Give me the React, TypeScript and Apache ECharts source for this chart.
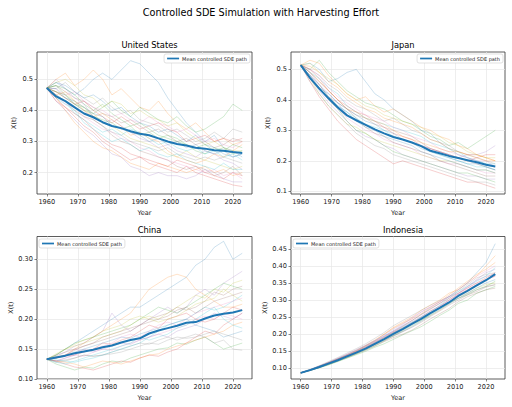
import { useEffect, useRef } from "react";
import * as echarts from "echarts";

// Sample years (every third year, 1960 – 2023)
const years = [1960, 1963, 1966, 1969, 1972, 1975, 1978, 1981, 1984, 1987, 1990, 1993, 1996, 1999, 2002, 2005, 2008, 2011, 2014, 2017, 2020, 2023];
const xTicks = [1960, 1970, 1980, 1990, 2000, 2010, 2020];

// United States
const usMean = [0.472, 0.445, 0.43, 0.41, 0.39, 0.378, 0.362, 0.35, 0.343, 0.333, 0.325, 0.32, 0.31, 0.3, 0.292, 0.287, 0.28, 0.277, 0.272, 0.27, 0.266, 0.263];
const usPaths = [
  [0.472, 0.49, 0.47, 0.45, 0.47, 0.5, 0.52, 0.5, 0.53, 0.56, 0.55, 0.52, 0.49, 0.44, 0.4, 0.36, 0.33, 0.3, 0.32, 0.28, 0.27, 0.25],
  [0.472, 0.5, 0.52, 0.48, 0.5, 0.53, 0.5, 0.45, 0.47, 0.44, 0.41, 0.4, 0.43, 0.39, 0.36, 0.34, 0.36, 0.33, 0.3, 0.31, 0.29, 0.3],
  [0.472, 0.46, 0.44, 0.42, 0.4, 0.39, 0.41, 0.43, 0.4, 0.38, 0.41, 0.39, 0.37, 0.36, 0.38, 0.35, 0.33, 0.34, 0.36, 0.38, 0.42, 0.4],
  [0.472, 0.44, 0.41, 0.38, 0.35, 0.33, 0.3, 0.28, 0.26, 0.24, 0.25, 0.23, 0.22, 0.21, 0.2, 0.22, 0.2, 0.19, 0.18, 0.17, 0.16, 0.155],
  [0.472, 0.43, 0.4, 0.37, 0.34, 0.32, 0.29, 0.26, 0.25, 0.22, 0.21, 0.19, 0.2, 0.19, 0.19, 0.18, 0.19, 0.21, 0.2, 0.18, 0.17, 0.17],
  [0.472, 0.48, 0.46, 0.44, 0.43, 0.41, 0.39, 0.38, 0.36, 0.37, 0.35, 0.33, 0.34, 0.32, 0.3, 0.31, 0.29, 0.3, 0.28, 0.29, 0.31, 0.3],
  [0.472, 0.45, 0.42, 0.41, 0.38, 0.36, 0.34, 0.33, 0.31, 0.3, 0.28, 0.27, 0.25, 0.24, 0.23, 0.22, 0.21, 0.2, 0.21, 0.19, 0.2, 0.18],
  [0.472, 0.47, 0.49, 0.46, 0.44, 0.42, 0.44, 0.41, 0.39, 0.4, 0.37, 0.36, 0.35, 0.33, 0.34, 0.32, 0.3, 0.31, 0.33, 0.31, 0.34, 0.33],
  [0.472, 0.46, 0.45, 0.43, 0.41, 0.39, 0.36, 0.35, 0.33, 0.31, 0.3, 0.29, 0.28, 0.26, 0.25, 0.27, 0.25, 0.24, 0.23, 0.22, 0.21, 0.22],
  [0.472, 0.45, 0.43, 0.39, 0.37, 0.35, 0.33, 0.34, 0.32, 0.34, 0.33, 0.31, 0.29, 0.3, 0.28, 0.27, 0.28, 0.26, 0.27, 0.25, 0.26, 0.24],
  [0.472, 0.49, 0.48, 0.46, 0.44, 0.45, 0.43, 0.4, 0.41, 0.38, 0.36, 0.35, 0.33, 0.34, 0.32, 0.3, 0.32, 0.29, 0.28, 0.26, 0.25, 0.26],
  [0.472, 0.44, 0.4, 0.36, 0.33, 0.3, 0.28, 0.27, 0.25, 0.23, 0.22, 0.21, 0.23, 0.22, 0.21, 0.2, 0.21, 0.22, 0.2, 0.21, 0.19, 0.2],
  [0.472, 0.48, 0.47, 0.45, 0.42, 0.4, 0.42, 0.39, 0.37, 0.35, 0.36, 0.34, 0.32, 0.31, 0.3, 0.29, 0.27, 0.26, 0.28, 0.27, 0.29, 0.28],
  [0.472, 0.46, 0.44, 0.42, 0.43, 0.4, 0.38, 0.36, 0.38, 0.36, 0.34, 0.35, 0.36, 0.34, 0.33, 0.3, 0.31, 0.32, 0.3, 0.31, 0.3, 0.31],
  [0.472, 0.5, 0.47, 0.44, 0.42, 0.38, 0.36, 0.37, 0.35, 0.33, 0.31, 0.3, 0.28, 0.29, 0.27, 0.26, 0.25, 0.27, 0.26, 0.24, 0.23, 0.21],
  [0.472, 0.45, 0.43, 0.4, 0.38, 0.37, 0.35, 0.32, 0.3, 0.29, 0.27, 0.26, 0.25, 0.24, 0.22, 0.21, 0.22, 0.21, 0.19, 0.2, 0.22, 0.19],
  [0.472, 0.47, 0.45, 0.46, 0.43, 0.41, 0.4, 0.38, 0.39, 0.37, 0.36, 0.38, 0.36, 0.35, 0.33, 0.34, 0.32, 0.3, 0.31, 0.29, 0.28, 0.3],
  [0.472, 0.46, 0.45, 0.42, 0.4, 0.37, 0.35, 0.33, 0.32, 0.3, 0.29, 0.28, 0.27, 0.28, 0.26, 0.25, 0.24, 0.25, 0.24, 0.25, 0.24, 0.23],
  [0.472, 0.49, 0.5, 0.48, 0.45, 0.44, 0.41, 0.43, 0.42, 0.39, 0.4, 0.38, 0.37, 0.35, 0.36, 0.33, 0.31, 0.29, 0.3, 0.28, 0.27, 0.27],
  [0.472, 0.44, 0.42, 0.4, 0.36, 0.34, 0.32, 0.3, 0.31, 0.29, 0.27, 0.28, 0.26, 0.25, 0.26, 0.24, 0.23, 0.22, 0.21, 0.23, 0.21, 0.21],
  [0.472, 0.47, 0.44, 0.43, 0.41, 0.39, 0.38, 0.35, 0.34, 0.33, 0.32, 0.3, 0.31, 0.29, 0.3, 0.28, 0.29, 0.27, 0.26, 0.27, 0.25, 0.26],
  [0.472, 0.45, 0.46, 0.43, 0.4, 0.38, 0.39, 0.37, 0.35, 0.32, 0.33, 0.31, 0.3, 0.27, 0.25, 0.24, 0.23, 0.24, 0.26, 0.25, 0.27, 0.29],
  [0.472, 0.48, 0.45, 0.42, 0.41, 0.38, 0.37, 0.36, 0.34, 0.35, 0.32, 0.33, 0.31, 0.32, 0.31, 0.29, 0.28, 0.29, 0.27, 0.28, 0.26, 0.27],
  [0.472, 0.43, 0.41, 0.39, 0.37, 0.34, 0.31, 0.29, 0.28, 0.26, 0.25, 0.24, 0.23, 0.22, 0.24, 0.23, 0.22, 0.2, 0.19, 0.18, 0.2, 0.19],
];

// Japan
const jpMean = [0.514, 0.472, 0.437, 0.405, 0.375, 0.349, 0.333, 0.318, 0.303, 0.29, 0.278, 0.27, 0.26, 0.248, 0.233, 0.225, 0.216, 0.209, 0.202, 0.195, 0.187, 0.181];
const jpPaths = [
  [0.514, 0.52, 0.5, 0.46, 0.47, 0.49, 0.5, 0.46, 0.42, 0.4, 0.37, 0.35, 0.33, 0.3, 0.29, 0.26, 0.24, 0.22, 0.21, 0.2, 0.19, 0.18],
  [0.514, 0.53, 0.52, 0.48, 0.45, 0.42, 0.4, 0.41, 0.38, 0.36, 0.37, 0.35, 0.33, 0.31, 0.3, 0.28, 0.27, 0.25, 0.24, 0.22, 0.21, 0.2],
  [0.514, 0.5, 0.53, 0.49, 0.46, 0.43, 0.41, 0.39, 0.38, 0.37, 0.35, 0.33, 0.32, 0.3, 0.28, 0.27, 0.25, 0.26, 0.24, 0.26, 0.28, 0.3],
  [0.514, 0.46, 0.41, 0.37, 0.33, 0.3, 0.27, 0.25, 0.23, 0.21, 0.19, 0.2, 0.19, 0.18, 0.17, 0.16, 0.15, 0.14, 0.13, 0.13, 0.12, 0.11],
  [0.514, 0.47, 0.43, 0.39, 0.36, 0.33, 0.3, 0.28, 0.27, 0.25, 0.24, 0.22, 0.21, 0.2, 0.19, 0.18, 0.17, 0.16, 0.15, 0.15, 0.14, 0.14],
  [0.514, 0.49, 0.46, 0.43, 0.4, 0.37, 0.35, 0.34, 0.32, 0.31, 0.3, 0.29, 0.28, 0.26, 0.24, 0.23, 0.22, 0.21, 0.2, 0.19, 0.18, 0.17],
  [0.514, 0.48, 0.44, 0.4, 0.37, 0.34, 0.32, 0.3, 0.29, 0.27, 0.26, 0.25, 0.24, 0.22, 0.21, 0.2, 0.19, 0.19, 0.18, 0.17, 0.16, 0.16],
  [0.514, 0.5, 0.48, 0.45, 0.43, 0.4, 0.38, 0.37, 0.35, 0.33, 0.34, 0.32, 0.3, 0.29, 0.27, 0.26, 0.25, 0.23, 0.22, 0.21, 0.2, 0.19],
  [0.514, 0.47, 0.42, 0.38, 0.35, 0.32, 0.31, 0.29, 0.27, 0.26, 0.25, 0.24, 0.23, 0.22, 0.21, 0.2, 0.2, 0.19, 0.18, 0.17, 0.17, 0.16],
  [0.514, 0.49, 0.47, 0.44, 0.42, 0.38, 0.36, 0.34, 0.33, 0.32, 0.31, 0.3, 0.29, 0.28, 0.26, 0.25, 0.24, 0.23, 0.21, 0.2, 0.19, 0.19],
  [0.514, 0.48, 0.45, 0.41, 0.38, 0.36, 0.33, 0.31, 0.3, 0.28, 0.27, 0.26, 0.25, 0.23, 0.22, 0.21, 0.2, 0.19, 0.18, 0.17, 0.17, 0.16],
  [0.514, 0.51, 0.49, 0.46, 0.44, 0.41, 0.39, 0.37, 0.36, 0.34, 0.33, 0.32, 0.31, 0.29, 0.27, 0.26, 0.24, 0.23, 0.22, 0.22, 0.21, 0.2],
  [0.514, 0.47, 0.44, 0.4, 0.37, 0.33, 0.3, 0.29, 0.27, 0.25, 0.23, 0.22, 0.21, 0.2, 0.19, 0.18, 0.17, 0.16, 0.16, 0.15, 0.14, 0.13],
  [0.514, 0.5, 0.47, 0.43, 0.4, 0.38, 0.36, 0.35, 0.33, 0.31, 0.29, 0.28, 0.27, 0.25, 0.24, 0.23, 0.22, 0.21, 0.2, 0.21, 0.22, 0.22],
  [0.514, 0.49, 0.45, 0.42, 0.39, 0.35, 0.33, 0.32, 0.3, 0.29, 0.28, 0.27, 0.26, 0.25, 0.24, 0.23, 0.22, 0.21, 0.22, 0.22, 0.23, 0.25],
  [0.514, 0.48, 0.45, 0.41, 0.39, 0.37, 0.34, 0.31, 0.29, 0.28, 0.26, 0.25, 0.24, 0.23, 0.22, 0.2, 0.19, 0.18, 0.17, 0.16, 0.15, 0.15],
  [0.514, 0.5, 0.48, 0.44, 0.41, 0.39, 0.37, 0.35, 0.34, 0.33, 0.31, 0.3, 0.28, 0.27, 0.26, 0.24, 0.23, 0.22, 0.21, 0.2, 0.2, 0.18],
  [0.514, 0.46, 0.42, 0.38, 0.35, 0.32, 0.29, 0.27, 0.25, 0.24, 0.22, 0.21, 0.2, 0.19, 0.18, 0.17, 0.16, 0.15, 0.14, 0.13, 0.13, 0.12],
  [0.514, 0.52, 0.49, 0.47, 0.45, 0.42, 0.4, 0.38, 0.37, 0.35, 0.34, 0.33, 0.32, 0.31, 0.29, 0.28, 0.26, 0.25, 0.23, 0.22, 0.21, 0.21],
  [0.514, 0.48, 0.44, 0.41, 0.38, 0.36, 0.34, 0.32, 0.31, 0.3, 0.28, 0.27, 0.26, 0.25, 0.23, 0.22, 0.21, 0.2, 0.19, 0.18, 0.18, 0.17],
  [0.514, 0.47, 0.44, 0.42, 0.39, 0.37, 0.35, 0.33, 0.32, 0.3, 0.29, 0.27, 0.26, 0.24, 0.23, 0.22, 0.21, 0.2, 0.19, 0.19, 0.18, 0.17],
  [0.514, 0.49, 0.46, 0.43, 0.4, 0.37, 0.36, 0.34, 0.33, 0.32, 0.3, 0.28, 0.27, 0.26, 0.25, 0.24, 0.23, 0.23, 0.22, 0.21, 0.2, 0.2],
];

// China
const cnMean = [0.133, 0.136, 0.139, 0.143, 0.146, 0.149, 0.153, 0.156, 0.161, 0.165, 0.168, 0.176, 0.181, 0.185, 0.189, 0.194, 0.195, 0.201, 0.206, 0.209, 0.211, 0.215];
const cnPaths = [
  [0.133, 0.14, 0.15, 0.16, 0.17, 0.18, 0.19, 0.2, 0.21, 0.22, 0.22, 0.23, 0.24, 0.25, 0.26, 0.27, 0.29, 0.3, 0.32, 0.33, 0.3, 0.31],
  [0.133, 0.135, 0.14, 0.15, 0.16, 0.17, 0.18, 0.19, 0.2, 0.21, 0.23, 0.25, 0.26, 0.27, 0.275, 0.27, 0.25, 0.24, 0.23, 0.22, 0.22, 0.225],
  [0.133, 0.125, 0.12, 0.115, 0.12, 0.118, 0.125, 0.13, 0.128, 0.135, 0.14, 0.145, 0.15, 0.152, 0.16, 0.158, 0.165, 0.17, 0.16, 0.15, 0.155, 0.16],
  [0.133, 0.13, 0.125, 0.12, 0.118, 0.115, 0.12, 0.125, 0.13, 0.128, 0.135, 0.14, 0.138, 0.145, 0.15, 0.16, 0.17, 0.18, 0.175, 0.19, 0.2, 0.21],
  [0.133, 0.14, 0.145, 0.155, 0.16, 0.17, 0.18, 0.21, 0.19, 0.18, 0.19, 0.2, 0.21, 0.22, 0.21, 0.22, 0.24, 0.25, 0.24, 0.26, 0.27, 0.28],
  [0.133, 0.138, 0.145, 0.15, 0.155, 0.16, 0.165, 0.17, 0.175, 0.18, 0.19, 0.2, 0.205, 0.21, 0.22, 0.215, 0.22, 0.23, 0.245, 0.24, 0.25, 0.255],
  [0.133, 0.13, 0.135, 0.14, 0.138, 0.145, 0.15, 0.148, 0.155, 0.16, 0.165, 0.17, 0.175, 0.18, 0.185, 0.19, 0.2, 0.205, 0.2, 0.21, 0.205, 0.2],
  [0.133, 0.128, 0.13, 0.135, 0.14, 0.138, 0.14, 0.145, 0.15, 0.155, 0.16, 0.158, 0.165, 0.17, 0.165, 0.17, 0.175, 0.17, 0.16, 0.165, 0.15, 0.148],
  [0.133, 0.14, 0.15, 0.155, 0.16, 0.165, 0.17, 0.175, 0.18, 0.19, 0.2, 0.205, 0.2, 0.21, 0.22, 0.23, 0.24, 0.235, 0.25, 0.245, 0.26, 0.265],
  [0.133, 0.132, 0.13, 0.128, 0.132, 0.135, 0.14, 0.145, 0.15, 0.155, 0.16, 0.17, 0.18, 0.19, 0.195, 0.2, 0.21, 0.22, 0.215, 0.22, 0.23, 0.24],
  [0.133, 0.135, 0.14, 0.145, 0.15, 0.155, 0.16, 0.165, 0.17, 0.168, 0.175, 0.18, 0.185, 0.19, 0.195, 0.2, 0.19, 0.185, 0.18, 0.17, 0.175, 0.18],
  [0.133, 0.13, 0.128, 0.125, 0.12, 0.125, 0.13, 0.128, 0.125, 0.13, 0.135, 0.14, 0.142, 0.15, 0.155, 0.16, 0.165, 0.17, 0.175, 0.18, 0.19, 0.195],
  [0.133, 0.14, 0.15, 0.16, 0.165, 0.17, 0.175, 0.18, 0.185, 0.19, 0.2, 0.21, 0.22, 0.215, 0.21, 0.22, 0.23, 0.24, 0.25, 0.26, 0.255, 0.25],
  [0.133, 0.135, 0.138, 0.14, 0.145, 0.15, 0.16, 0.158, 0.165, 0.17, 0.18, 0.19, 0.185, 0.2, 0.205, 0.21, 0.2, 0.195, 0.2, 0.21, 0.22, 0.215],
  [0.133, 0.13, 0.135, 0.14, 0.15, 0.145, 0.15, 0.155, 0.16, 0.158, 0.165, 0.17, 0.175, 0.17, 0.18, 0.185, 0.19, 0.2, 0.21, 0.205, 0.2, 0.21],
  [0.133, 0.137, 0.14, 0.148, 0.155, 0.16, 0.17, 0.175, 0.18, 0.185, 0.19, 0.195, 0.2, 0.205, 0.215, 0.22, 0.21, 0.22, 0.23, 0.235, 0.24, 0.245],
  [0.133, 0.135, 0.14, 0.15, 0.145, 0.15, 0.155, 0.16, 0.17, 0.175, 0.17, 0.18, 0.19, 0.195, 0.19, 0.2, 0.21, 0.215, 0.22, 0.225, 0.23, 0.235],
  [0.133, 0.13, 0.132, 0.135, 0.14, 0.138, 0.14, 0.142, 0.145, 0.15, 0.155, 0.16, 0.158, 0.165, 0.17, 0.168, 0.17, 0.175, 0.18, 0.175, 0.17, 0.165],
  [0.133, 0.142, 0.15, 0.158, 0.165, 0.17, 0.18, 0.185, 0.19, 0.2, 0.205, 0.2, 0.195, 0.2, 0.205, 0.215, 0.225, 0.23, 0.235, 0.25, 0.24, 0.23],
  [0.133, 0.128, 0.125, 0.13, 0.135, 0.14, 0.145, 0.15, 0.155, 0.16, 0.17, 0.165, 0.17, 0.175, 0.185, 0.19, 0.2, 0.21, 0.22, 0.2, 0.19, 0.185],
];

// Indonesia
const idMean = [0.087, 0.095, 0.104, 0.114, 0.124, 0.135, 0.146, 0.158, 0.172, 0.186, 0.201, 0.215, 0.23, 0.245, 0.262, 0.277, 0.293, 0.312, 0.327, 0.343, 0.358, 0.376];
const idPaths = [
  [0.087, 0.096, 0.106, 0.117, 0.128, 0.14, 0.152, 0.166, 0.18, 0.195, 0.21, 0.225, 0.24, 0.258, 0.275, 0.29, 0.31, 0.33, 0.35, 0.38, 0.41, 0.465],
  [0.087, 0.095, 0.104, 0.115, 0.126, 0.137, 0.15, 0.165, 0.18, 0.2, 0.22, 0.235, 0.25, 0.27, 0.285, 0.3, 0.32, 0.33, 0.35, 0.37, 0.4, 0.43],
  [0.087, 0.094, 0.102, 0.11, 0.12, 0.13, 0.14, 0.15, 0.162, 0.172, 0.185, 0.198, 0.21, 0.222, 0.238, 0.255, 0.27, 0.29, 0.3, 0.32, 0.33, 0.34],
  [0.087, 0.095, 0.105, 0.116, 0.127, 0.138, 0.148, 0.16, 0.175, 0.19, 0.205, 0.218, 0.232, 0.25, 0.268, 0.282, 0.3, 0.315, 0.33, 0.345, 0.36, 0.37],
  [0.087, 0.096, 0.107, 0.118, 0.13, 0.142, 0.155, 0.168, 0.182, 0.198, 0.215, 0.23, 0.248, 0.265, 0.28, 0.295, 0.31, 0.32, 0.34, 0.36, 0.38, 0.39],
  [0.087, 0.094, 0.103, 0.112, 0.122, 0.132, 0.143, 0.153, 0.165, 0.178, 0.19, 0.2, 0.212, 0.228, 0.245, 0.26, 0.275, 0.295, 0.31, 0.32, 0.33, 0.335],
  [0.087, 0.095, 0.105, 0.115, 0.125, 0.135, 0.147, 0.158, 0.172, 0.185, 0.198, 0.212, 0.228, 0.245, 0.262, 0.28, 0.298, 0.318, 0.335, 0.35, 0.36, 0.37],
  [0.087, 0.097, 0.108, 0.12, 0.132, 0.145, 0.158, 0.172, 0.188, 0.205, 0.225, 0.24, 0.255, 0.27, 0.285, 0.298, 0.31, 0.325, 0.345, 0.365, 0.375, 0.38],
  [0.087, 0.095, 0.103, 0.113, 0.123, 0.134, 0.145, 0.157, 0.17, 0.184, 0.198, 0.213, 0.23, 0.242, 0.255, 0.27, 0.29, 0.31, 0.32, 0.335, 0.345, 0.35],
  [0.087, 0.096, 0.106, 0.116, 0.126, 0.137, 0.149, 0.162, 0.176, 0.19, 0.205, 0.22, 0.235, 0.25, 0.265, 0.285, 0.305, 0.325, 0.34, 0.355, 0.37, 0.395],
  [0.087, 0.095, 0.104, 0.114, 0.124, 0.135, 0.146, 0.158, 0.17, 0.183, 0.196, 0.208, 0.222, 0.238, 0.255, 0.272, 0.288, 0.305, 0.32, 0.335, 0.35, 0.36],
  [0.087, 0.096, 0.106, 0.117, 0.128, 0.14, 0.153, 0.167, 0.183, 0.2, 0.218, 0.232, 0.245, 0.26, 0.278, 0.295, 0.315, 0.335, 0.355, 0.375, 0.39, 0.41],
  [0.087, 0.094, 0.102, 0.111, 0.121, 0.131, 0.142, 0.154, 0.166, 0.18, 0.195, 0.21, 0.225, 0.24, 0.258, 0.275, 0.29, 0.305, 0.315, 0.33, 0.34, 0.355],
  [0.087, 0.095, 0.105, 0.116, 0.127, 0.138, 0.15, 0.163, 0.177, 0.192, 0.207, 0.223, 0.24, 0.257, 0.273, 0.29, 0.305, 0.32, 0.335, 0.35, 0.365, 0.38],
  [0.087, 0.096, 0.107, 0.118, 0.129, 0.141, 0.153, 0.166, 0.18, 0.194, 0.208, 0.222, 0.236, 0.252, 0.268, 0.283, 0.3, 0.318, 0.338, 0.358, 0.37, 0.375],
  [0.087, 0.094, 0.103, 0.113, 0.123, 0.133, 0.144, 0.156, 0.168, 0.181, 0.194, 0.207, 0.22, 0.235, 0.252, 0.268, 0.285, 0.3, 0.315, 0.325, 0.338, 0.345],
  [0.087, 0.095, 0.105, 0.115, 0.126, 0.138, 0.15, 0.163, 0.177, 0.193, 0.21, 0.228, 0.245, 0.265, 0.28, 0.295, 0.31, 0.33, 0.35, 0.37, 0.385, 0.4],
  [0.087, 0.095, 0.104, 0.115, 0.126, 0.137, 0.149, 0.161, 0.174, 0.188, 0.203, 0.218, 0.233, 0.248, 0.262, 0.278, 0.292, 0.305, 0.318, 0.33, 0.34, 0.345],
];

const palette = ["#1f77b4", "#ff7f0e", "#2ca02c", "#d62728", "#9467bd", "#8c564b", "#e377c2", "#7f7f7f", "#bcbd22", "#17becf"];
const MEAN_NAME = "Mean controlled SDE path";
const FONT = "DejaVu Sans";
const INK = "#222";

type Panel = {
  title: string;
  mean: number[];
  paths: number[][];
  yMin: number;
  yMax: number;
  yTicks: number[];
  digits: number;
  grid: { left: number; top: number; width: number; height: number };
  legend: Record<string, number>;
};

const panels: Panel[] = [
  {
    title: "United States", mean: usMean, paths: usPaths, yMin: 0.131, yMax: 0.588,
    yTicks: [0.2, 0.3, 0.4, 0.5], digits: 1,
    grid: { left: 37, top: 52, width: 215, height: 142 }, legend: { right: 262, top: 54 },
  },
  {
    title: "Japan", mean: jpMean, paths: jpPaths, yMin: 0.091, yMax: 0.557,
    yTicks: [0.1, 0.2, 0.3, 0.4, 0.5], digits: 1,
    grid: { left: 291, top: 52, width: 214, height: 142 }, legend: { right: 9, top: 54 },
  },
  {
    title: "China", mean: cnMean, paths: cnPaths, yMin: 0.1, yMax: 0.338,
    yTicks: [0.1, 0.15, 0.2, 0.25, 0.3], digits: 2,
    grid: { left: 37, top: 236.5, width: 215, height: 142.5 }, legend: { left: 39, top: 239 },
  },
  {
    title: "Indonesia", mean: idMean, paths: idPaths, yMin: 0.069, yMax: 0.486,
    yTicks: [0.1, 0.15, 0.2, 0.25, 0.3, 0.35, 0.4, 0.45], digits: 2,
    grid: { left: 291, top: 236.5, width: 214, height: 142.5 }, legend: { left: 293, top: 239 },
  },
];

const pairs = (vals: number[]) => vals.map((v, i) => [years[i], v]);

export default function App() {
  const ref = useRef<HTMLDivElement>(null);

  useEffect(() => {
    document.body.style.margin = "0";
    if (!ref.current) return;
    const chart = echarts.init(ref.current, undefined, { renderer: "svg" });

    const titles: any[] = [
      {
        text: "Controlled SDE Simulation with Harvesting Effort",
        left: 256, top: 2, textAlign: "center",
        textStyle: { fontFamily: FONT, fontSize: 9.7, fontWeight: "normal", color: "#000" },
      },
    ];
    const grids: any[] = [];
    const xAxes: any[] = [];
    const yAxes: any[] = [];
    const legends: any[] = [];
    const series: any[] = [];

    panels.forEach((p, k) => {
      titles.push({
        text: p.title,
        left: p.grid.left + p.grid.width / 2,
        top: p.grid.top - 16,
        textAlign: "center",
        textStyle: { fontFamily: FONT, fontSize: 8.3, fontWeight: "normal", color: "#000" },
      });
      grids.push({
        ...p.grid, show: true, borderColor: "#333", borderWidth: 0.8, backgroundColor: "transparent",
      });
      xAxes.push({
        type: "value", gridIndex: k, min: 1956.85, max: 2026.15,
        name: "Year", nameLocation: "middle", nameGap: 15,
        nameTextStyle: { fontFamily: FONT, fontSize: 6.6, color: INK },
        axisLine: { show: false },
        axisTick: { show: true, customValues: xTicks, length: 2.5, lineStyle: { color: "#333", width: 0.6 } },
        axisLabel: { customValues: xTicks, fontFamily: FONT, fontSize: 6.6, color: INK, margin: 4, formatter: (v: number) => String(v) },
        splitLine: { show: true, lineStyle: { color: "#e6e6e6", width: 0.7 } },
      });
      yAxes.push({
        type: "value", gridIndex: k, min: p.yMin, max: p.yMax,
        name: "X(t)", nameLocation: "middle", nameGap: 20, nameRotate: 90,
        nameTextStyle: { fontFamily: FONT, fontSize: 6.6, color: INK },
        axisLine: { show: false },
        axisTick: { show: true, customValues: p.yTicks, length: 2.5, lineStyle: { color: "#333", width: 0.6 } },
        axisLabel: { customValues: p.yTicks, fontFamily: FONT, fontSize: 6.6, color: INK, margin: 4, formatter: (v: number) => v.toFixed(p.digits) },
        splitLine: { show: true, lineStyle: { color: "#e6e6e6", width: 0.7 } },
      });
      legends.push({
        ...p.legend, orient: "vertical", data: [MEAN_NAME],
        icon: "rect", itemWidth: 12, itemHeight: 1.7, itemGap: 2,
        padding: [2, 3, 2, 3], backgroundColor: "#fff", borderColor: "#ccc", borderWidth: 0.6, borderRadius: 2,
        textStyle: { fontFamily: FONT, fontSize: 5, color: INK, padding: [0, 0, 0, -2] },
        selectedMode: false,
      });
      p.paths.forEach((path, j) => {
        series.push({
          type: "line", name: `${p.title} path ${j + 1}`, xAxisIndex: k, yAxisIndex: k,
          data: pairs(path), showSymbol: false, silent: true,
          lineStyle: { color: palette[j % palette.length], width: 0.6, opacity: 0.38 },
          z: 2,
        });
      });
      series.push({
        type: "line", name: MEAN_NAME, xAxisIndex: k, yAxisIndex: k,
        data: pairs(p.mean), showSymbol: false, color: "#1f77b4",
        lineStyle: { color: "#1f77b4", width: 2 }, z: 5,
      });
    });

    chart.setOption({
      animation: false,
      backgroundColor: "#fff",
      title: titles,
      grid: grids,
      xAxis: xAxes,
      yAxis: yAxes,
      legend: legends,
      series,
    });

    return () => chart.dispose();
  }, []);

  return <div ref={ref} style={{ width: 512, height: 407 }} />;
}
